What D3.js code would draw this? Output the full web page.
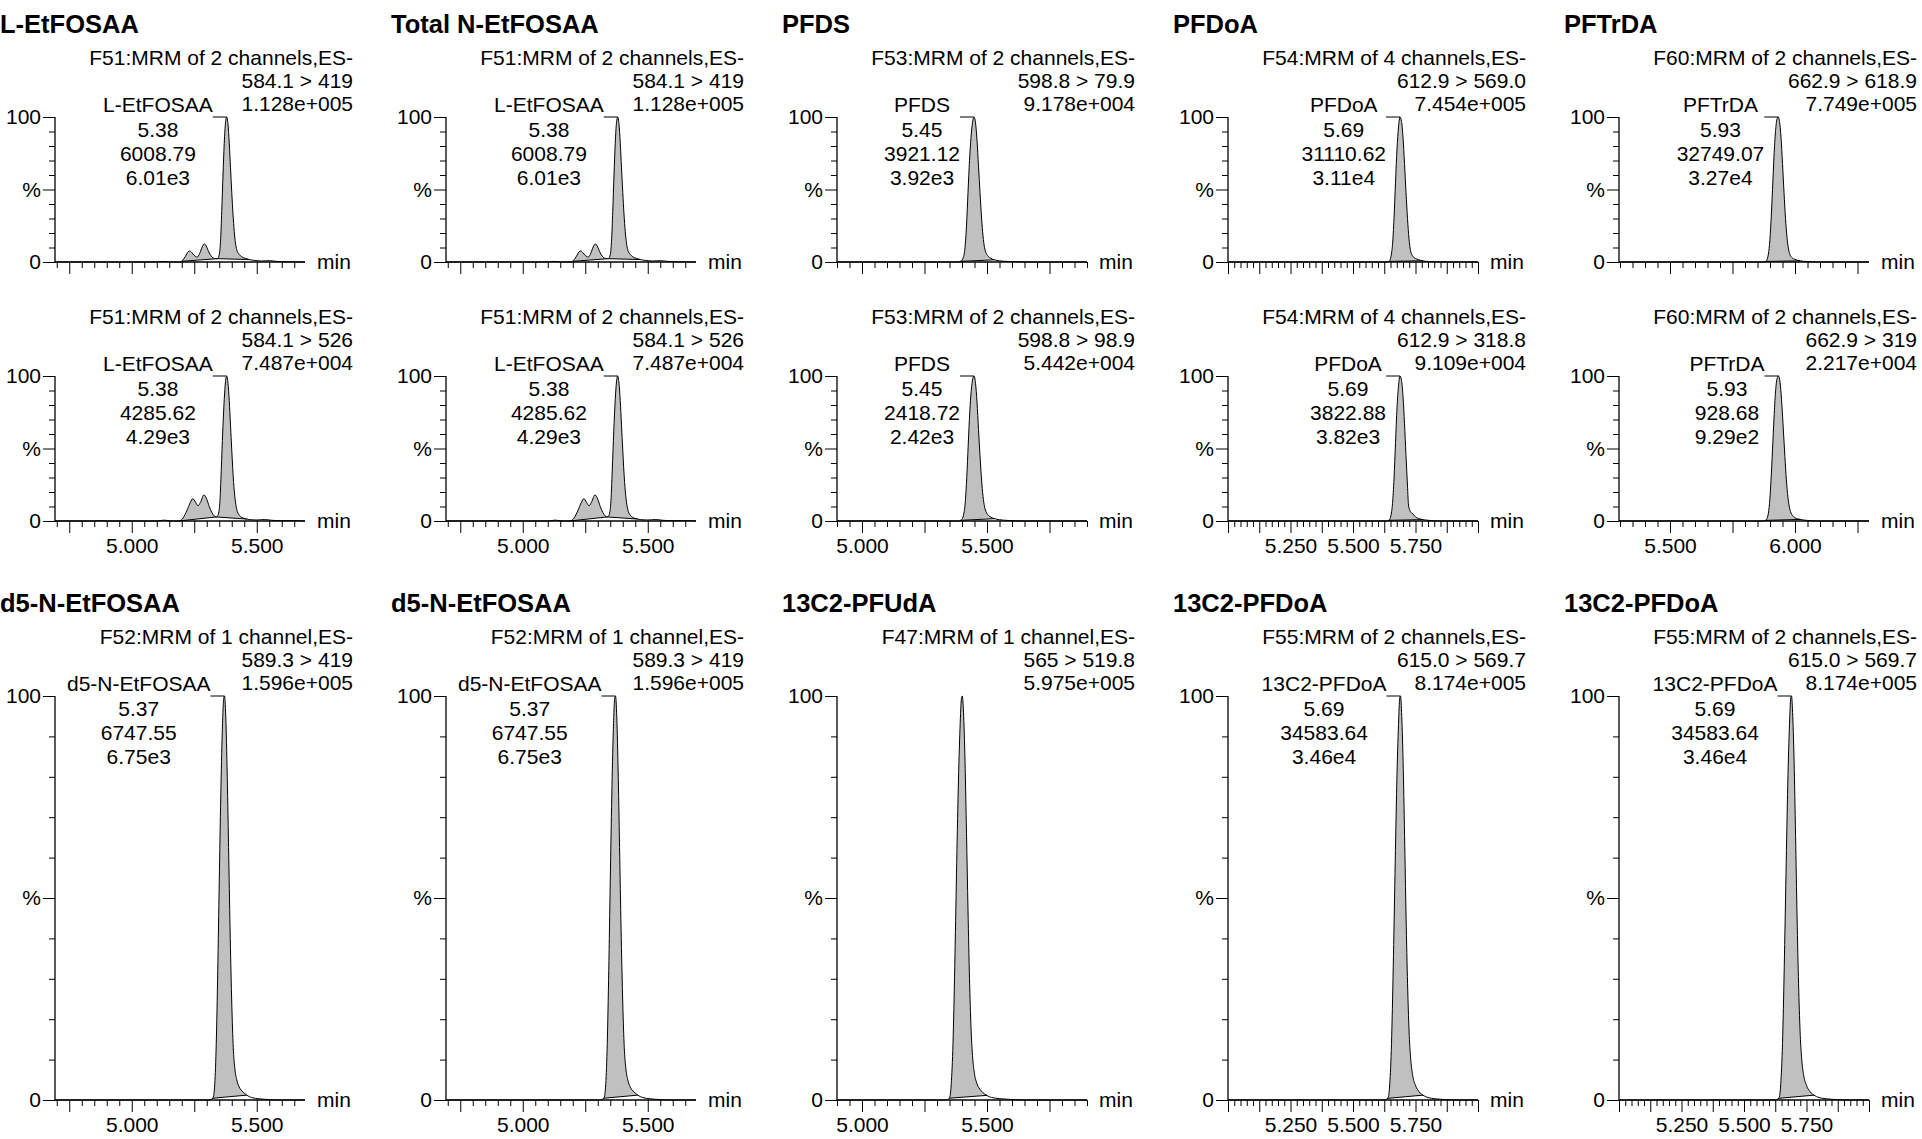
<!DOCTYPE html>
<html><head><meta charset="utf-8">
<script src="https://cdn.jsdelivr.net/npm/d3@7"></script>
<style>
body{margin:0;background:#fff;}
svg{display:block;font-family:"Liberation Sans",Arial,Helvetica,sans-serif;}
</style></head><body>
<svg id="chart" width="1922" height="1139"></svg>
<script>
// ---------------- data ----------------
const panelTitles = ["L-EtFOSAA","Total N-EtFOSAA","PFDS","PFDoA","PFTrDA",
  "","","","","",
  "d5-N-EtFOSAA","d5-N-EtFOSAA","13C2-PFUdA","13C2-PFDoA","13C2-PFDoA"];
const functionLines = ["F51:MRM of 2 channels,ES-","F51:MRM of 2 channels,ES-","F53:MRM of 2 channels,ES-","F54:MRM of 4 channels,ES-","F60:MRM of 2 channels,ES-",
  "F51:MRM of 2 channels,ES-","F51:MRM of 2 channels,ES-","F53:MRM of 2 channels,ES-","F54:MRM of 4 channels,ES-","F60:MRM of 2 channels,ES-",
  "F52:MRM of 1 channel,ES-","F52:MRM of 1 channel,ES-","F47:MRM of 1 channel,ES-","F55:MRM of 2 channels,ES-","F55:MRM of 2 channels,ES-"];
const transitionLines = ["584.1 > 419","584.1 > 419","598.8 > 79.9","612.9 > 569.0","662.9 > 618.9",
  "584.1 > 526","584.1 > 526","598.8 > 98.9","612.9 > 318.8","662.9 > 319",
  "589.3 > 419","589.3 > 419","565 > 519.8","615.0 > 569.7","615.0 > 569.7"];
const maxIntensity = ["1.128e+005","1.128e+005","9.178e+004","7.454e+005","7.749e+005",
  "7.487e+004","7.487e+004","5.442e+004","9.109e+004","2.217e+004",
  "1.596e+005","1.596e+005","5.975e+005","8.174e+005","8.174e+005"];
const peakNames = ["L-EtFOSAA","L-EtFOSAA","PFDS","PFDoA","PFTrDA",
  "L-EtFOSAA","L-EtFOSAA","PFDS","PFDoA","PFTrDA",
  "d5-N-EtFOSAA","d5-N-EtFOSAA","","13C2-PFDoA","13C2-PFDoA"];
const peakRT = ["5.38","5.38","5.45","5.69","5.93",
  "5.38","5.38","5.45","5.69","5.93",
  "5.37","5.37","","5.69","5.69"];
const peakArea = ["6008.79","6008.79","3921.12","31110.62","32749.07",
  "4285.62","4285.62","2418.72","3822.88","928.68",
  "6747.55","6747.55","","34583.64","34583.64"];
const peakAreaShort = ["6.01e3","6.01e3","3.92e3","3.11e4","3.27e4",
  "4.29e3","4.29e3","2.42e3","3.82e3","9.29e2",
  "6.75e3","6.75e3","","3.46e4","3.46e4"];
const panelAxis = ["A","A","B","C","D","A","A","B","C","D","A","A","B","C","C"];
const panelHasTickLabels = [false,false,false,false,false,true,true,true,true,true,true,true,true,true,true];

// x axis (time, min) definitions
const axisNames = ["A","B","C","D"];
const axisDomains = [[4.693,5.693],[4.9,5.9],[5.0,6.0],[5.296,6.296]];
const axisMinorStep = [0.05,0.05,0.025,0.05];
const axisMajorStep = [0.25,0.25,0.125,0.25];
const axisTickLabels = [[5.0,5.5],[5.0,5.5],[5.25,5.5,5.75],[5.5,6.0]];

// y axis ticks (%)
const yMinorTicks = [10,20,30,40,60,70,80,90];
const yMajorTicks = [0,50,100];
const yMajorLabels = ["0","%","100"];

// chromatogram traces: [time (min), relative intensity (%)]
const traceLEt419 = [[4.693,0],[5.10,0],[5.125,0.4],[5.15,0],[5.195,0],[5.205,1.5],[5.215,4],[5.225,7],[5.232,7.6],[5.240,6.5],[5.250,4.5],[5.262,3.4],[5.272,6],[5.282,10.5],[5.290,12.5],[5.298,11],[5.308,7],[5.318,4],[5.330,2.5],[5.343,2.3],[5.350,5],[5.355,14],[5.360,35],[5.365,60],[5.370,82],[5.375,96],[5.380,100],[5.385,95],[5.390,82],[5.395,65],[5.400,48],[5.405,33],[5.410,21],[5.415,13],[5.420,8.5],[5.430,5.2],[5.440,3.6],[5.455,2.5],[5.470,1.7],[5.490,1.1],[5.52,0.7],[5.55,0.9],[5.58,0.4],[5.62,0.1],[5.693,0]];
const traceLEt526 = [[4.693,0],[4.85,0],[4.87,0.3],[4.90,0],[5.10,0],[5.13,0.6],[5.16,0],[5.19,0],[5.205,2],[5.22,7],[5.235,13],[5.244,15.4],[5.255,13],[5.265,10.5],[5.275,13],[5.289,18],[5.30,15],[5.31,10],[5.32,6],[5.33,3.5],[5.338,2.8],[5.345,4],[5.352,12],[5.358,35],[5.364,62],[5.370,84],[5.375,96],[5.380,100],[5.385,95],[5.390,83],[5.395,66],[5.400,49],[5.405,33],[5.410,21],[5.415,13],[5.420,8],[5.430,4],[5.440,2.5],[5.455,1.5],[5.47,1],[5.50,0.7],[5.53,1],[5.56,0.5],[5.60,0.2],[5.65,0.3],[5.693,0]];
const tracePFDS799 = [[4.9,0],[5.38,0],[5.395,0.5],[5.405,3],[5.412,10],[5.418,25],[5.424,48],[5.430,70],[5.436,86],[5.442,96],[5.448,100],[5.454,96],[5.460,84],[5.466,66],[5.472,48],[5.478,31],[5.484,18],[5.490,10],[5.497,6],[5.505,4],[5.515,2.5],[5.53,1.5],[5.55,0.8],[5.58,0.4],[5.62,0.1],[5.66,0],[5.9,0]];
const tracePFDS989 = [[4.9,0],[5.385,0],[5.398,0.8],[5.406,4],[5.413,13],[5.419,30],[5.425,53],[5.431,75],[5.437,90],[5.443,98],[5.448,100],[5.454,95],[5.460,82],[5.466,63],[5.472,45],[5.478,29],[5.484,17],[5.490,10],[5.497,6],[5.505,4],[5.515,2.7],[5.53,1.6],[5.55,0.9],[5.58,0.4],[5.62,0.1],[5.66,0],[5.9,0]];
const tracePFDoA569 = [[5.0,0],[5.63,0],[5.645,0.5],[5.652,4],[5.658,12],[5.664,30],[5.670,55],[5.676,78],[5.682,93],[5.688,100],[5.694,97],[5.700,86],[5.706,68],[5.712,48],[5.718,30],[5.724,16],[5.730,8],[5.737,4.5],[5.745,3],[5.755,2],[5.77,1.2],[5.79,0.5],[5.82,0.2],[5.85,0],[6.0,0]];
const tracePFDoA3188 = [[5.0,0],[5.632,0],[5.645,0.6],[5.652,4],[5.658,12],[5.664,29],[5.670,54],[5.676,78],[5.682,93],[5.688,100],[5.694,97],[5.700,86],[5.706,67],[5.712,45],[5.718,24],[5.722,11],[5.727,7.5],[5.735,5.5],[5.745,3.8],[5.755,2.3],[5.77,1.3],[5.785,0.8],[5.81,0.3],[5.85,0],[6.0,0]];
const tracePFTrDA6189 = [[5.296,0],[5.87,0],[5.884,0.5],[5.892,4],[5.898,12],[5.904,28],[5.910,50],[5.916,73],[5.922,90],[5.928,98.5],[5.933,100],[5.938,97],[5.944,86],[5.950,68],[5.956,48],[5.962,30],[5.968,17],[5.974,9],[5.980,5],[5.988,3],[6.0,1.8],[6.02,0.8],[6.05,0.3],[6.09,0],[6.296,0]];
const tracePFTrDA319 = [[5.296,0],[5.872,0],[5.884,0.6],[5.892,4],[5.898,12],[5.904,28],[5.910,49],[5.916,71],[5.922,89],[5.928,98],[5.934,100],[5.940,96],[5.946,84],[5.952,67],[5.958,49],[5.964,32],[5.970,19],[5.976,11],[5.982,6.5],[5.990,3.8],[6.0,2.3],[6.02,1.1],[6.05,0.4],[6.09,0],[6.296,0]];
const traceD5 = [[4.693,0],[5.31,0],[5.325,0.5],[5.332,4],[5.338,14],[5.344,32],[5.350,54],[5.356,75],[5.362,91],[5.368,99.5],[5.371,100],[5.376,95],[5.382,80],[5.388,60],[5.394,40],[5.400,24],[5.406,13],[5.412,8],[5.420,5],[5.430,3.2],[5.445,2],[5.46,1.2],[5.48,0.6],[5.51,0.3],[5.55,0.1],[5.60,0],[5.693,0]];
const tracePFUdA = [[4.9,0],[5.335,0],[5.350,0.5],[5.357,4],[5.364,14],[5.371,33],[5.378,56],[5.385,77],[5.392,92],[5.398,99.5],[5.401,100],[5.406,96],[5.412,84],[5.418,66],[5.424,47],[5.430,30],[5.436,18],[5.442,11],[5.450,6.5],[5.460,4],[5.475,2.4],[5.49,1.5],[5.51,0.8],[5.54,0.4],[5.58,0.2],[5.65,0],[5.9,0]];
const trace13C2PFDoA = [[5.0,0],[5.625,0],[5.640,0.5],[5.647,4],[5.654,14],[5.661,33],[5.668,56],[5.675,78],[5.682,93],[5.687,99.5],[5.690,100],[5.695,95],[5.701,82],[5.707,63],[5.713,43],[5.719,27],[5.725,16],[5.731,10],[5.739,6],[5.75,3.6],[5.765,2],[5.78,1.2],[5.80,0.6],[5.83,0.3],[5.87,0.1],[5.92,0],[6.0,0]];

const panelTraces = [traceLEt419,traceLEt419,tracePFDS799,tracePFDoA569,tracePFTrDA6189,
  traceLEt526,traceLEt526,tracePFDS989,tracePFDoA3188,tracePFTrDA319,
  traceD5,traceD5,tracePFUdA,trace13C2PFDoA,trace13C2PFDoA];
// integrated regions (start, end time)
const panelFills = [[[5.198,5.343],[5.343,5.47]],[[5.198,5.343],[5.343,5.47]],[[5.392,5.53]],[[5.642,5.78]],[[5.88,6.02]],
  [[5.188,5.338],[5.338,5.46]],[[5.188,5.338],[5.338,5.46]],[[5.392,5.53]],[[5.642,5.78]],[[5.88,6.02]],
  [[5.323,5.46]],[[5.323,5.46]],[[5.348,5.50]],[[5.637,5.78]],[[5.637,5.78]]];

// ---------------- layout ----------------
const colX = [0,391,782,1173,1564];
const rowTop = [117,376,696];
const rowZero = [262,521,1100];
const plotLeft = 55, plotW = 250;
const FS = 21;

const svg = d3.select("#chart");
const lineGen = d3.line().curve(d3.curveMonotoneX);

function interp(tr, t){
  for(let i=1;i<tr.length;i++){
    if(tr[i][0]>=t){const a=tr[i-1],b=tr[i];const f=(t-a[0])/(b[0]-a[0]);return a[1]+f*(b[1]-a[1]);}
  }
  return tr[tr.length-1][1];
}
function stepVals(d0,d1,step){
  const k0=Math.ceil(d0/step-1e-6),k1=Math.floor(d1/step+1e-6);
  return d3.range(k0,k1+1).map(k=>+(k*step).toFixed(4));
}

for(let i=0;i<15;i++){
  const r=Math.floor(i/5), c=i%5;
  const g=svg.append("g").attr("transform",`translate(${colX[c]},0)`);
  const ai=axisNames.indexOf(panelAxis[i]);
  const dom=axisDomains[ai];
  const x=d3.scaleLinear().domain(dom).range([plotLeft,plotLeft+plotW]);
  const y=d3.scaleLinear().domain([0,100]).range([rowZero[r],rowTop[r]]);
  const tr=panelTraces[i];

  // title
  if(panelTitles[i]) g.append("text").attr("x",0).attr("y",rowTop[r]-84)
    .attr("font-size",25.5).attr("font-weight","bold").attr("fill","#000").text(panelTitles[i]);

  // header
  [functionLines[i],transitionLines[i],maxIntensity[i]].forEach((s,k)=>{
    g.append("text").attr("x",353).attr("y",rowTop[r]-52+k*23).attr("text-anchor","end")
      .attr("font-size",FS).attr("fill","#000").text(s);
  });

  // fills
  panelFills[i].forEach(([t0,t1])=>{
    const pts=[[t0,interp(tr,t0)]].concat(tr.filter(p=>p[0]>t0&&p[0]<t1)).concat([[t1,interp(tr,t1)]]);
    const pp=pts.map(p=>[x(p[0]),y(p[1])]);
    g.append("path").attr("d",lineGen(pp)+"Z").attr("fill","#c0c0c0").attr("stroke","none");
    g.append("line").attr("x1",pp[0][0]).attr("y1",pp[0][1]).attr("x2",pp[pp.length-1][0]).attr("y2",pp[pp.length-1][1])
      .attr("stroke","#000").attr("stroke-width",1);
  });

  // axes
  const minorVals=stepVals(dom[0],dom[1],axisMinorStep[ai]);
  const majorVals=minorVals.filter(v=>Math.abs(v/axisMajorStep[ai]-Math.round(v/axisMajorStep[ai]))<1e-6);
  const minorOnly=minorVals.filter(v=>!majorVals.includes(v));
  const labs=axisTickLabels[ai];
  const gxMinor=g.append("g").attr("transform",`translate(0,${rowZero[r]})`)
    .call(d3.axisBottom(x).tickValues(minorOnly).tickSize(6).tickSizeOuter(0).tickFormat(""));
  const gxMajor=g.append("g").attr("transform",`translate(0,${rowZero[r]})`)
    .call(d3.axisBottom(x).tickValues(majorVals).tickSize(12).tickSizeOuter(0).tickPadding(5)
      .tickFormat(v=>(panelHasTickLabels[i]&&labs.some(l=>Math.abs(l-v)<1e-6))?d3.format(".3f")(v):""));
  const gyMinor=g.append("g").attr("transform",`translate(${plotLeft},0)`)
    .call(d3.axisLeft(y).tickValues(yMinorTicks).tickSize(6).tickSizeOuter(0).tickFormat(""));
  const gyMajor=g.append("g").attr("transform",`translate(${plotLeft},0)`)
    .call(d3.axisLeft(y).tickValues(yMajorTicks).tickSize(12).tickSizeOuter(0).tickPadding(2)
      .tickFormat(v=>yMajorLabels[yMajorTicks.indexOf(v)]));
  [gxMinor,gxMajor,gyMinor,gyMajor].forEach(a=>{
    a.select(".domain").remove();
    a.selectAll("line").attr("stroke","#000").attr("stroke-width",1);
    a.selectAll("text").attr("font-size",FS).attr("fill","#000").attr("font-family","Liberation Sans, Arial, sans-serif");
  });
  g.append("line").attr("x1",plotLeft).attr("x2",plotLeft).attr("y1",rowTop[r]).attr("y2",rowZero[r]).attr("stroke","#000").attr("stroke-width",1.3);
  g.append("line").attr("x1",plotLeft).attr("x2",plotLeft+plotW).attr("y1",rowZero[r]).attr("y2",rowZero[r]).attr("stroke","#000").attr("stroke-width",1.3);
  g.append("text").attr("x",plotLeft+plotW+12).attr("y",rowZero[r]+7).attr("font-size",FS).attr("fill","#000").text("min");

  // trace
  g.append("path").attr("d",lineGen(tr.map(p=>[x(p[0]),y(p[1])]))).attr("fill","none").attr("stroke","#000").attr("stroke-width",1);

  // peak label block
  if(peakNames[i]){
    const apex=d3.greatest(tr,p=>p[1]);
    const ax=x(apex[0]);
    const lines=[peakNames[i],peakRT[i],peakArea[i],peakAreaShort[i]];
    const offs=[-5,20,44,68];
    const ts=lines.map((s,k)=>g.append("text").attr("y",rowTop[r]+offs[k]).attr("text-anchor","middle")
      .attr("font-size",FS).attr("fill","#000").text(s));
    const maxW=d3.max(ts,t=>t.node().getComputedTextLength());
    const right=ax-14;
    ts.forEach(t=>t.attr("x",right-maxW/2));
    g.append("line").attr("x1",right).attr("x2",ax).attr("y1",rowTop[r]).attr("y2",rowTop[r]).attr("stroke","#000").attr("stroke-width",1);
  }
}
</script>
</body></html>
